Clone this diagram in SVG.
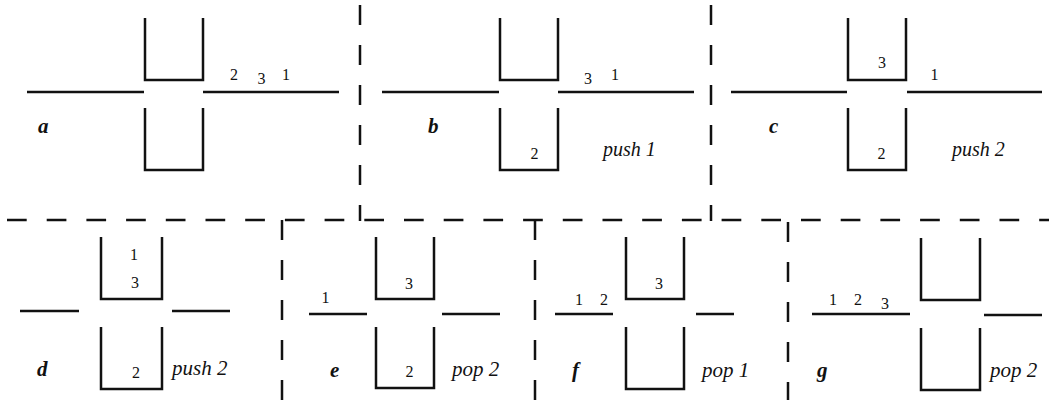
<svg xmlns="http://www.w3.org/2000/svg" width="1049" height="400" viewBox="0 0 1049 400">
<style>
.ln{stroke:#111;stroke-width:2.5;fill:none;stroke-linejoin:miter}
.dv{stroke:#111;stroke-width:2.5;fill:none;stroke-dasharray:20 20}
.dh{stroke:#111;stroke-width:2.5;fill:none;stroke-dasharray:19.7 20}
.lbl{font-family:"Liberation Serif",serif;font-weight:bold;font-style:italic;font-size:21px;fill:#111}
.op{font-family:"Liberation Serif",serif;font-style:italic;font-size:20px;fill:#111}
.op2{font-family:"Liberation Serif",serif;font-style:italic;font-size:21px;fill:#111}
.num{font-family:"Liberation Serif",serif;font-size:16px;fill:#111;text-anchor:middle}
</style>
<rect width="1049" height="400" fill="#fff"/>
<g id="separators">
<line class="dv" x1="360" y1="5" x2="360" y2="221"/>
<line class="dv" x1="711" y1="5" x2="711" y2="221"/>
<line class="dh" x1="7" y1="220" x2="1049" y2="220"/>
<line class="dv" x1="282" y1="220" x2="282" y2="400"/>
<line class="dv" x1="535" y1="220" x2="535" y2="400"/>
<line class="dv" x1="788" y1="222" x2="788" y2="400"/>
</g>
<g id="panel-a">
<line class="ln" x1="27" y1="92" x2="144" y2="92"/>
<line class="ln" x1="203" y1="92" x2="339" y2="92"/>
<path class="ln" d="M145 18V80H203V18"/>
<path class="ln" d="M145 108V170H203V108"/>
<text class="lbl" x="38" y="133">a</text>
<text class="num" x="234" y="80">2</text>
<text class="num" x="261.5" y="84">3</text>
<text class="num" x="286" y="80">1</text>
</g>
<g id="panel-b">
<line class="ln" x1="382" y1="92" x2="499" y2="92"/>
<line class="ln" x1="558" y1="92" x2="694" y2="92"/>
<path class="ln" d="M500 18V80H558V18"/>
<path class="ln" d="M500 108V170H558V108"/>
<text class="lbl" x="428" y="133">b</text>
<text class="num" x="588" y="84">3</text>
<text class="num" x="615" y="80">1</text>
<text class="num" x="534.5" y="159">2</text>
<text class="op" x="603" y="156">push 1</text>
</g>
<g id="panel-c">
<line class="ln" x1="731" y1="92" x2="847" y2="92"/>
<line class="ln" x1="907" y1="92" x2="1042" y2="92"/>
<path class="ln" d="M848 18V80H906V18"/>
<path class="ln" d="M848 108V170H906V108"/>
<text class="lbl" x="769" y="133">c</text>
<text class="num" x="882" y="68">3</text>
<text class="num" x="934.5" y="80">1</text>
<text class="num" x="881.5" y="159">2</text>
<text class="op" x="952" y="156">push 2</text>
</g>
<g id="panel-d">
<line class="ln" x1="20" y1="311" x2="79" y2="311"/>
<line class="ln" x1="172" y1="311" x2="230" y2="311"/>
<path class="ln" d="M101 237V299H162V237"/>
<path class="ln" d="M101 327V389H162V327"/>
<text class="lbl" x="37" y="376">d</text>
<text class="num" x="134" y="260">1</text>
<text class="num" x="135" y="288">3</text>
<text class="num" x="136" y="378">2</text>
<text class="op2" x="172" y="375">push 2</text>
</g>
<g id="panel-e">
<line class="ln" x1="309" y1="314" x2="367" y2="314"/>
<line class="ln" x1="442" y1="314" x2="500" y2="314"/>
<path class="ln" d="M376 237V299H434V237"/>
<path class="ln" d="M376 327V388H434V327"/>
<text class="lbl" x="330" y="377">e</text>
<text class="num" x="325.5" y="303">1</text>
<text class="num" x="409" y="289">3</text>
<text class="num" x="409.5" y="377">2</text>
<text class="op2" x="452" y="376">pop 2</text>
</g>
<g id="panel-f">
<line class="ln" x1="555" y1="314" x2="613" y2="314"/>
<line class="ln" x1="696" y1="314" x2="734" y2="314"/>
<path class="ln" d="M626 237V299H684V237"/>
<path class="ln" d="M626 327V389H684V327"/>
<text class="lbl" x="572" y="377">f</text>
<text class="num" x="579" y="305">1</text>
<text class="num" x="604" y="305">2</text>
<text class="num" x="659" y="289">3</text>
<text class="op2" x="702" y="377">pop 1</text>
</g>
<g id="panel-g">
<line class="ln" x1="812" y1="314" x2="910" y2="314"/>
<line class="ln" x1="984" y1="315" x2="1042" y2="315"/>
<path class="ln" d="M921 238V300H980V238"/>
<path class="ln" d="M921 328V390H980V328"/>
<text class="lbl" x="817" y="377">g</text>
<text class="num" x="833" y="305">1</text>
<text class="num" x="858" y="305">2</text>
<text class="num" x="885" y="309">3</text>
<text class="op2" x="990" y="377">pop 2</text>
</g>
</svg>
